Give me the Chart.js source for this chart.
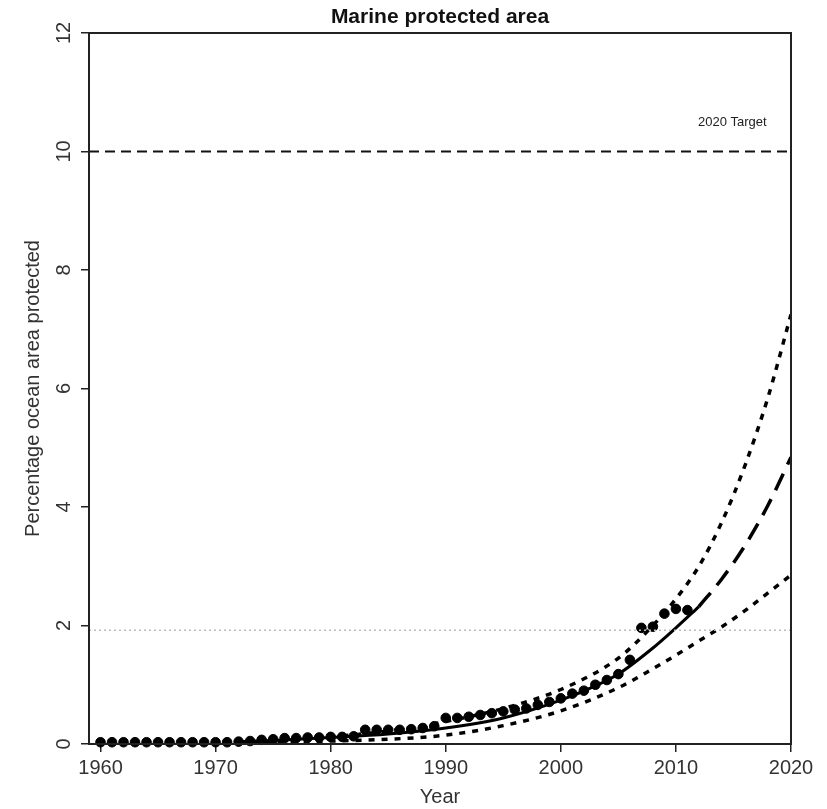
<!DOCTYPE html>
<html>
<head>
<meta charset="utf-8">
<script src="https://cdn.jsdelivr.net/npm/chart.js@4"></script>
<style>
  html, body { margin: 0; padding: 0; background: #fff; }
  #wrap { width: 827px; height: 809px; }
</style>
</head>
<body>
<div id="wrap"><canvas id="mpaChart"></canvas></div>
<script>
// observed yearly coverage
const years = [1960, 1961, 1962, 1963, 1964, 1965, 1966, 1967, 1968, 1969,
    1970, 1971, 1972, 1973, 1974, 1975, 1976, 1977, 1978, 1979,
    1980, 1981, 1982, 1983, 1984, 1985, 1986, 1987, 1988, 1989,
    1990, 1991, 1992, 1993, 1994, 1995, 1996, 1997, 1998, 1999,
    2000, 2001, 2002, 2003, 2004, 2005, 2006, 2007, 2008, 2009,
    2010, 2011];
const protectedPct = [0.03, 0.03, 0.03, 0.03, 0.03, 0.03, 0.03, 0.03, 0.03, 0.03,
    0.03, 0.03, 0.04, 0.05, 0.07, 0.08, 0.10, 0.10, 0.11, 0.11,
    0.12, 0.12, 0.13, 0.24, 0.24, 0.24, 0.24, 0.25, 0.27, 0.30,
    0.44, 0.44, 0.46, 0.49, 0.52, 0.55, 0.58, 0.60, 0.66, 0.71,
    0.77, 0.85, 0.90, 1.00, 1.08, 1.18, 1.42, 1.96, 1.98, 2.20,
    2.28, 2.26];

// fitted trend and projection
const fitYears = [1972, 1975, 1980, 1985, 1990, 1995, 2000, 2003, 2005, 2008, 2010, 2012];
const fitValues = [0.04, 0.06, 0.11, 0.17, 0.27, 0.44, 0.74, 0.98, 1.18, 1.62, 1.96, 2.32];
const projYears = [2012, 2014, 2016, 2018, 2020];
const projValues = [2.32, 2.79, 3.35, 4.03, 4.84];

// confidence band
const bandYears = [1972, 1975, 1980, 1985, 1990, 1995, 2000, 2005, 2008, 2010, 2012, 2014, 2016, 2018, 2020];
const upperValues = [0.03, 0.05, 0.12, 0.22, 0.38, 0.60, 0.92, 1.45, 2.00, 2.45, 3.00, 3.75, 4.70, 5.85, 7.25];
const lowerValues = [0.02, 0.03, 0.05, 0.08, 0.15, 0.31, 0.56, 0.95, 1.27, 1.50, 1.74, 1.98, 2.25, 2.55, 2.85];

// reference levels
const targetValue = 10;
const currentLevel = 1.92;
const xRange = [1959, 2020];
const xTicks = [1960, 1970, 1980, 1990, 2000, 2010, 2020];
const yTicks = [0, 2, 4, 6, 8, 10, 12];

function pairs(xs, ys) {
    return xs.map((x, i) => ({ x: x, y: ys[i] }));
}

const FONT = '"Liberation Sans", Arial, sans-serif';

// box, title, rotated y labels and target label
const decorPlugin = {
    id: 'decor',
    afterDraw(chart) {
        const ctx = chart.ctx;
        const a = chart.chartArea;
        const xs = chart.scales.x, ys = chart.scales.y;
        ctx.save();
        ctx.strokeStyle = '#222';
        ctx.lineWidth = 2;
        ctx.strokeRect(a.left, a.top, a.right - a.left, a.bottom - a.top);

        ctx.fillStyle = '#111';
        ctx.textAlign = 'center';
        ctx.textBaseline = 'middle';
        ctx.font = 'bold 21px ' + FONT;
        ctx.fillText('Marine protected area', (a.left + a.right) / 2, 17);

        // y tick labels read bottom to top, centred on the tick
        ctx.font = '20px ' + FONT;
        ctx.fillStyle = '#333';
        yTicks.forEach(v => {
            ctx.save();
            ctx.translate(64, ys.getPixelForValue(v));
            ctx.rotate(-Math.PI / 2);
            ctx.fillText(String(v), 0, 0);
            ctx.restore();
        });

        ctx.font = '13px ' + FONT;
        ctx.fillStyle = '#222';
        ctx.fillText('2020 Target', xs.getPixelForValue(2014.9), ys.getPixelForValue(10.49));
        ctx.restore();
    }
};

new Chart(document.getElementById('mpaChart'), {
    type: 'scatter',
    data: {
        datasets: [
            {
                label: 'Target',
                type: 'line',
                data: pairs(xRange, [targetValue, targetValue]),
                borderColor: '#111',
                borderWidth: 2,
                borderDash: [10, 6],
                pointRadius: 0
            },
            {
                label: 'Current',
                type: 'line',
                data: pairs(xRange, [currentLevel, currentLevel]),
                borderColor: '#bbb',
                borderWidth: 1.5,
                borderDash: [2, 3],
                pointRadius: 0
            },
            {
                label: 'Upper',
                type: 'line',
                data: pairs(bandYears, upperValues),
                borderColor: '#000',
                borderWidth: 3.5,
                borderDash: [6, 7],
                cubicInterpolationMode: 'monotone',
                pointRadius: 0
            },
            {
                label: 'Lower',
                type: 'line',
                data: pairs(bandYears, lowerValues),
                borderColor: '#000',
                borderWidth: 3.5,
                borderDash: [6, 7],
                cubicInterpolationMode: 'monotone',
                pointRadius: 0
            },
            {
                label: 'Projection',
                type: 'line',
                data: pairs(projYears, projValues),
                borderColor: '#000',
                borderWidth: 3.5,
                borderDash: [18, 10],
                cubicInterpolationMode: 'monotone',
                pointRadius: 0
            },
            {
                label: 'Fit',
                type: 'line',
                data: pairs(fitYears, fitValues),
                borderColor: '#000',
                borderWidth: 3,
                cubicInterpolationMode: 'monotone',
                pointRadius: 0
            },
            {
                label: 'Observed',
                data: pairs(years, protectedPct),
                backgroundColor: '#000',
                borderColor: '#000',
                pointRadius: 4.8,
                clip: false
            }
        ]
    },
    options: {
        responsive: true,
        maintainAspectRatio: false,
        animation: false,
        layout: { padding: { left: 0, right: 36, top: 33, bottom: 0 } },
        plugins: {
            legend: { display: false },
            tooltip: { enabled: false },
            title: { display: false }
        },
        scales: {
            x: {
                type: 'linear',
                min: xRange[0],
                max: xRange[1],
                afterBuildTicks: s => { s.ticks = xTicks.map(v => ({ value: v })); },
                afterFit: s => { s.height = 65; },
                grid: { drawOnChartArea: false, drawTicks: true, tickLength: 8, color: '#222', lineWidth: 1.5 },
                border: { display: true, color: '#222', width: 2 },
                ticks: {
                    color: '#333',
                    font: { family: FONT, size: 20 },
                    padding: 4,
                    maxRotation: 0,
                    callback: v => String(v)
                },
                title: {
                    display: true,
                    text: 'Year',
                    color: '#333',
                    font: { family: FONT, size: 20 },
                    padding: { top: 0, bottom: 0 }
                }
            },
            y: {
                min: 0,
                max: 12,
                afterBuildTicks: s => { s.ticks = yTicks.map(v => ({ value: v })); },
                afterFit: s => { s.width = 89; },
                grid: { drawOnChartArea: false, drawTicks: true, tickLength: 8, color: '#222', lineWidth: 1.5 },
                border: { display: true, color: '#222', width: 2 },
                ticks: { display: false },
                title: {
                    display: true,
                    text: 'Percentage ocean area protected',
                    color: '#333',
                    font: { family: FONT, size: 20 },
                    padding: { top: 21, bottom: 0 }
                }
            }
        }
    },
    plugins: [decorPlugin]
});
</script>
</body>
</html>
